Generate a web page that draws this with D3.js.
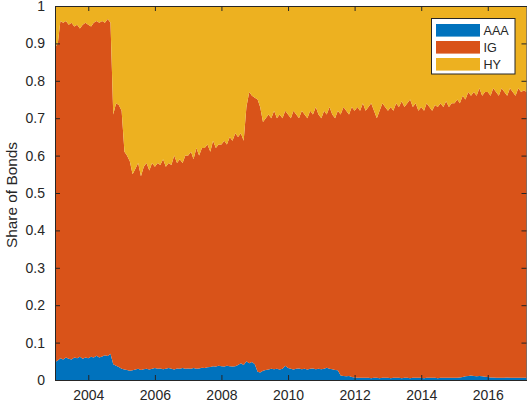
<!DOCTYPE html>
<html>
<head>
<meta charset="utf-8">
<script src="https://cdn.jsdelivr.net/npm/d3@7"></script>
<style>
body{margin:0;background:#fff;}
text{font-family:"Liberation Sans",Arial,Helvetica,sans-serif;fill:#262626;}
</style>
</head>
<body>
<div id="chart"></div>
<script>
// monthly shares, Jan 2003 .. Mar 2017
var startMonth = new Date(2003, 0, 1);
var endMonth = new Date(2017, 2, 1);

var seriesNames = ["AAA", "IG", "HY"];
var seriesColors = ["#0072BD", "#D95319", "#EDB120"];

var aaa = [
    .048,.052,.058,.055,.060,.057,.055,.060,.058,.062,.057,.060,
    .058,.062,.060,.065,.060,.063,.066,.064,.070,.042,.038,.035,
    .030,.028,.027,.025,.026,.028,.030,.027,.029,.030,.028,.030,
    .032,.030,.031,.029,.030,.032,.030,.028,.031,.030,.032,.030,
    .031,.030,.032,.030,.031,.033,.032,.034,.035,.037,.036,.038,
    .037,.036,.038,.037,.036,.037,.040,.045,.040,.050,.045,.048,
    .042,.022,.020,.025,.027,.028,.030,.029,.030,.028,.030,.038,
    .032,.030,.028,.030,.031,.029,.030,.028,.030,.031,.029,.030,
    .029,.030,.033,.030,.029,.027,.026,.012,.011,.010,.011,.008,
    .007,.006,.006,.006,.006,.006,.005,.006,.006,.005,.006,.006,
    .006,.005,.006,.006,.006,.005,.006,.006,.005,.006,.006,.006,
    .006,.005,.006,.006,.006,.006,.005,.006,.006,.006,.006,.006,
    .006,.006,.007,.008,.010,.011,.012,.011,.010,.011,.010,.009,
    .008,.007,.007,.006,.006,.006,.006,.007,.006,.006,.006,.006,
    .006,.006,.006
];

var ig = [
    .842,.848,.902,.900,.900,.893,.900,.885,.892,.878,.893,.895,
    .892,.883,.895,.895,.895,.897,.889,.901,.885,.668,.702,.700,
    .690,.582,.573,.560,.524,.537,.550,.518,.541,.550,.532,.550,
    .538,.550,.544,.561,.540,.548,.545,.572,.549,.560,.548,.570,
    .569,.580,.558,.590,.569,.587,.588,.596,.575,.603,.584,.592,
    .593,.604,.592,.613,.604,.623,.610,.615,.600,.680,.725,.712,
    .713,.728,.710,.665,.673,.682,.670,.691,.670,.682,.670,.682,
    .678,.670,.692,.680,.669,.691,.680,.672,.690,.679,.701,.680,
    .671,.690,.677,.700,.681,.673,.694,.698,.719,.710,.699,.722,
    .713,.724,.714,.734,.714,.724,.735,.714,.694,.715,.734,.724,
    .714,.725,.714,.734,.724,.740,.724,.734,.745,.724,.734,.714,
    .724,.715,.734,.724,.714,.729,.725,.734,.724,.739,.724,.734,
    .734,.744,.733,.752,.740,.759,.748,.759,.750,.769,.750,.761,
    .762,.753,.773,.764,.754,.774,.764,.753,.774,.764,.754,.774,
    .764,.769,.764
];

var hy = [
    .110,.100,.040,.045,.040,.050,.045,.055,.050,.060,.050,.045,
    .050,.055,.045,.040,.045,.040,.045,.035,.045,.290,.260,.265,
    .280,.390,.400,.415,.450,.435,.420,.455,.430,.420,.440,.420,
    .430,.420,.425,.410,.430,.420,.425,.400,.420,.410,.420,.400,
    .400,.390,.410,.380,.400,.380,.380,.370,.390,.360,.380,.370,
    .370,.360,.370,.350,.360,.340,.350,.340,.360,.270,.230,.240,
    .245,.250,.270,.310,.300,.290,.300,.280,.300,.290,.300,.280,
    .290,.300,.280,.290,.300,.280,.290,.300,.280,.290,.270,.290,
    .300,.280,.290,.270,.290,.300,.280,.290,.270,.280,.290,.270,
    .280,.270,.280,.260,.280,.270,.260,.280,.300,.280,.260,.270,
    .280,.270,.280,.260,.270,.255,.270,.260,.250,.270,.260,.280,
    .270,.280,.260,.270,.280,.265,.270,.260,.270,.255,.270,.260,
    .260,.250,.260,.240,.250,.230,.240,.230,.240,.220,.240,.230,
    .230,.240,.220,.230,.240,.220,.230,.240,.220,.230,.240,.220,
    .230,.225,.230
];

var xTickYears = [2004, 2006, 2008, 2010, 2012, 2014, 2016];
var yTicks = [0, 0.1, 0.2, 0.3, 0.4, 0.5, 0.6, 0.7, 0.8, 0.9, 1];

var width = 527;
var height = 404;
// plot box edges (note: "top" is a reserved window property, so use plot* names)
var plotLeft = 55, plotRight = 526.5, plotTop = 6, plotBottom = 380;

var months = d3.timeMonth.range(startMonth, d3.timeMonth.offset(endMonth, 1));
var rows = months.map(function(m, i) {
    return {date: m, AAA: aaa[i], IG: ig[i], HY: hy[i]};
});

var svg = d3.select("#chart").append("svg")
    .attr("width", width)
    .attr("height", height);

var x = d3.scaleTime()
    .domain([startMonth, endMonth])
    .range([plotLeft, plotRight]);

var y = d3.scaleLinear()
    .domain([0, 1])
    .range([plotBottom, plotTop]);

var stack = d3.stack()
    .keys(seriesNames)
    .offset(d3.stackOffsetExpand);

var layers = stack(rows);

var area = d3.area()
    .x(function(d) { return x(d.data.date); })
    .y0(function(d) { return y(d[0]); })
    .y1(function(d) { return y(d[1]); });

svg.selectAll(".layer")
    .data(layers)
    .enter().append("path")
    .attr("class", "layer")
    .attr("d", area)
    .attr("fill", function(d, i) { return seriesColors[i]; })
    .attr("stroke", "none");

// axes, ticks pointing inward on all four sides (box on)
var xTickDates = xTickYears.map(function(yr) { return new Date(yr, 0, 1); });

svg.append("g")
    .attr("transform", "translate(0," + plotBottom + ")")
    .call(d3.axisBottom(x).tickValues(xTickDates).tickSize(-5).tickSizeOuter(0)
        .tickPadding(10).tickFormat(d3.timeFormat("%Y")));

svg.append("g")
    .attr("transform", "translate(" + plotLeft + ",0)")
    .call(d3.axisLeft(y).tickValues(yTicks).tickSize(-5).tickSizeOuter(0)
        .tickPadding(10).tickFormat(d3.format("~g")));

svg.append("g")
    .attr("transform", "translate(0," + plotTop + ")")
    .call(d3.axisTop(x).tickValues(xTickDates).tickSize(-5).tickSizeOuter(0).tickFormat(""));

svg.append("g")
    .attr("transform", "translate(" + plotRight + ",0)")
    .call(d3.axisRight(y).tickValues(yTicks).tickSize(-5).tickSizeOuter(0).tickFormat(""));

svg.selectAll(".domain, .tick line")
    .attr("stroke", "#262626");

svg.selectAll(".tick text")
    .style("font-size", "14px")
    .attr("fill", "#262626");

svg.append("text")
    .attr("transform", "translate(16.5," + ((plotTop + plotBottom) / 2 + 2) + ") rotate(-90)")
    .attr("text-anchor", "middle")
    .style("font-size", "15.4px")
    .text("Share of Bonds");

// legend
var legend = svg.append("g")
    .attr("transform", "translate(431.5,18.5)");

legend.append("rect")
    .attr("width", 83.5)
    .attr("height", 55.5)
    .attr("fill", "#fff")
    .attr("stroke", "#262626");

var entry = legend.selectAll(".entry")
    .data(seriesNames)
    .enter().append("g")
    .attr("class", "entry")
    .attr("transform", function(d, i) { return "translate(0," + (11.8 + i * 17) + ")"; });

entry.append("rect")
    .attr("x", 4.5)
    .attr("y", -6.3)
    .attr("width", 44)
    .attr("height", 12.6)
    .attr("fill", function(d, i) { return seriesColors[i]; });

entry.append("text")
    .attr("x", 52)
    .attr("dy", "0.36em")
    .style("font-size", "12.6px")
    .text(function(d) { return d; });
</script>
</body>
</html>
